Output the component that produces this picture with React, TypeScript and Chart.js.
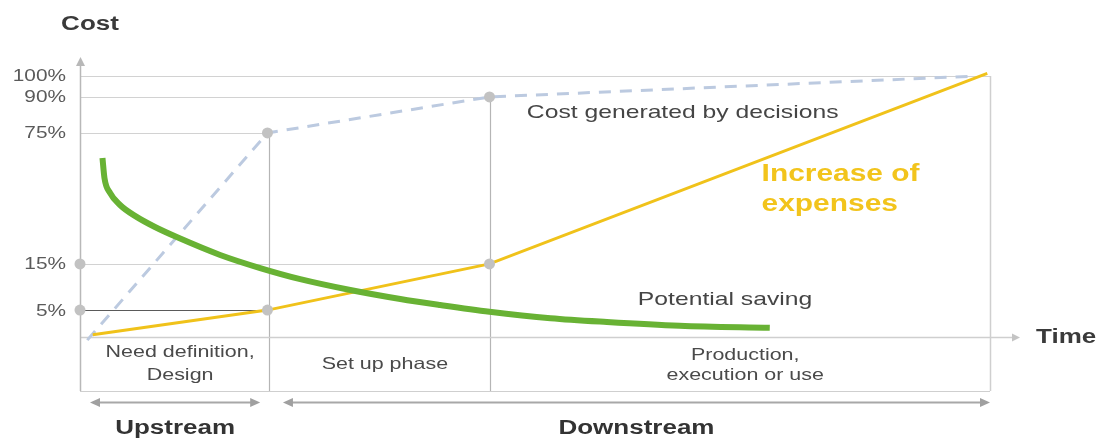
import React, { useEffect, useRef } from "react";
import { Chart, registerables, LinearScale } from "chart.js";

// ---- schematic (non-linear) cost axis: real % values and the heights they are drawn at
const yBreaks = [0, 5, 15, 75, 90, 100];
const yBreakLevels = [0, 10.3, 28.0, 78.2, 92.0, 100];
const yTickValues = [5, 15, 75, 90, 100];
const yTickLabels = ["5%", "15%", "75%", "90%", "100%"];

// ---- time axis phases (0..100 = whole life cycle)
const phaseBounds = [0, 20.8, 45, 100];
const phaseLabels = [["Need definition,", "Design"], ["Set up phase"], ["Production,", "execution or use"]];
const spanLabels = ["Upstream", "Downstream"];

// ---- series
const decisionsX = [0.8, 20.6, 45, 98.5];
const decisionsY = [-1.2, 75, 90, 100];

const expensesX = [1.4, 20.6, 45, 99.7];
const expensesY = [0.4, 5, 15, 101];

const savingX = [2.47, 2.69, 3.3, 4.4, 6.04, 8.24, 10.63, 15.4, 19.8, 24.2, 29.7, 35.2, 39.6, 45.0, 51.7, 57.9, 65.9, 75.8];
const savingY = [63.5, 54.3, 47.5, 42.0, 37.0, 31.9, 27.3, 19.1, 14.1, 11.7, 9.35, 7.4, 6.1, 4.7, 3.5, 2.8, 2.1, 1.7];

const markerX = [0, 0, 20.6, 45, 20.6, 45];
const markerY = [15, 5, 75, 90, 5, 15];

// guide lines: level and where they stop on the time axis
const guideLevels = [100, 90, 75, 15, 5];
const guideEnds = [100, 45, 20.6, 45, 20.6];

const seriesNotes = ["Cost generated by decisions", "Increase of", "expenses", "Potential saving"];

function toLevel(v: number): number {
  const n = yBreaks.length;
  if (v <= yBreaks[0]) return v - yBreaks[0] + yBreakLevels[0];
  for (let i = 1; i < n; i++) {
    if (v <= yBreaks[i]) {
      const t = (v - yBreaks[i - 1]) / (yBreaks[i] - yBreaks[i - 1]);
      return yBreakLevels[i - 1] + t * (yBreakLevels[i] - yBreakLevels[i - 1]);
    }
  }
  return v - yBreaks[n - 1] + yBreakLevels[n - 1];
}
function fromLevel(l: number): number {
  const n = yBreaks.length;
  if (l <= yBreakLevels[0]) return l - yBreakLevels[0] + yBreaks[0];
  for (let i = 1; i < n; i++) {
    if (l <= yBreakLevels[i]) {
      const t = (l - yBreakLevels[i - 1]) / (yBreakLevels[i] - yBreakLevels[i - 1]);
      return yBreaks[i - 1] + t * (yBreaks[i] - yBreaks[i - 1]);
    }
  }
  return l - yBreakLevels[n - 1] + yBreaks[n - 1];
}

class SchematicScale extends LinearScale {
  static id = "schematic";
  getPixelForValue(value: number, index?: number) {
    return super.getPixelForValue(toLevel(value), index);
  }
  getValueForPixel(pixel: number) {
    return fromLevel(super.getValueForPixel(pixel) as number);
  }
}

Chart.register(...registerables, SchematicScale);

const FONT = "'Liberation Sans', Arial, sans-serif";
const STRETCH = 1.3;

function txt(ctx: CanvasRenderingContext2D, s: string, x: number, y: number, font: string, color: string, align: CanvasTextAlign) {
  ctx.save();
  ctx.font = font;
  ctx.fillStyle = color;
  ctx.textBaseline = "middle";
  ctx.textAlign = align;
  ctx.translate(x, y);
  ctx.scale(STRETCH, 1);
  ctx.fillText(s, 0, 0);
  ctx.restore();
}

function line(ctx: CanvasRenderingContext2D, x1: number, y1: number, x2: number, y2: number, color: string, w: number) {
  ctx.save();
  ctx.strokeStyle = color;
  ctx.lineWidth = w;
  ctx.beginPath();
  ctx.moveTo(x1, y1);
  ctx.lineTo(x2, y2);
  ctx.stroke();
  ctx.restore();
}

function tri(ctx: CanvasRenderingContext2D, pts: number[][], color: string) {
  ctx.save();
  ctx.fillStyle = color;
  ctx.beginPath();
  ctx.moveTo(pts[0][0], pts[0][1]);
  ctx.lineTo(pts[1][0], pts[1][1]);
  ctx.lineTo(pts[2][0], pts[2][1]);
  ctx.closePath();
  ctx.fill();
  ctx.restore();
}

const guidePlugin = {
  id: "guides",
  beforeDatasetsDraw(chart: any) {
    const ctx: CanvasRenderingContext2D = chart.ctx;
    const xs = chart.scales.x, ys = chart.scales.y;
    const px = (v: number) => xs.getPixelForValue(v);
    const py = (v: number) => ys.getPixelForValue(v);
    const bottom = chart.chartArea.bottom;
    const x0 = px(0);

    // horizontal guides
    guideLevels.forEach((lv, i) => {
      const y = Math.round(py(lv)) + 0.5;
      const dark = lv === 5;
      line(ctx, x0, y, px(guideEnds[i]), y, dark ? "#5a5a5a" : "#d2d2d2", 1.2);
    });
    // box bottom and right side
    line(ctx, x0, bottom + 0.5, px(100), bottom + 0.5, "#cfcfcf", 1.2);
    line(ctx, Math.round(px(100)) + 0.5, py(100), Math.round(px(100)) + 0.5, bottom, "#cfcfcf", 1.5);
    // phase dividers
    line(ctx, Math.round(px(phaseBounds[1])) + 0.5, py(75), Math.round(px(phaseBounds[1])) + 0.5, bottom, "#b5b5b5", 1.2);
    line(ctx, Math.round(px(phaseBounds[2])) + 0.5, py(90), Math.round(px(phaseBounds[2])) + 0.5, bottom, "#b5b5b5", 1.2);
    // time axis with arrow
    const y0 = Math.round(py(0)) + 0.5;
    const tEnd = px(103.3);
    line(ctx, x0, y0, tEnd - 6, y0, "#cfcfcf", 1.5);
    tri(ctx, [[tEnd, y0], [tEnd - 8, y0 - 4], [tEnd - 8, y0 + 4]], "#c4c4c4");
    // cost axis with arrow
    const top = chart.chartArea.top;
    line(ctx, x0 + 0.5, bottom, x0 + 0.5, top + 6, "#b8b8b8", 1.5);
    tri(ctx, [[x0 + 0.5, top], [x0 - 4, top + 9], [x0 + 5, top + 9]], "#b8b8b8");
  },
  afterDraw(chart: any) {
    const ctx: CanvasRenderingContext2D = chart.ctx;
    const xs = chart.scales.x, ys = chart.scales.y;
    const px = (v: number) => xs.getPixelForValue(v);
    const py = (v: number) => ys.getPixelForValue(v);
    const x0 = px(0);
    const top = chart.chartArea.top;

    // axis titles
    txt(ctx, "Cost", x0 + 10, top - 33, `bold 20px ${FONT}`, "#3a3a3a", "center");
    txt(ctx, "Time", px(103.3) + 16, py(0), `bold 20px ${FONT}`, "#3a3a3a", "left");

    // tick labels
    yTickValues.forEach((v, i) => {
      txt(ctx, yTickLabels[i], x0 - 14, py(v) + 1, `16px ${FONT}`, "#5a5a5a", "right");
    });

    // series notes
    txt(ctx, seriesNotes[0], px(49.1), py(83.4), `19px ${FONT}`, "#454545", "left");
    txt(ctx, seriesNotes[1], px(74.9), py(55.8), `bold 23px ${FONT}`, "#f2c41c", "left");
    txt(ctx, seriesNotes[2], px(74.9), py(42.0), `bold 23px ${FONT}`, "#f2c41c", "left");
    txt(ctx, seriesNotes[3], px(61.3), py(7.2), `19px ${FONT}`, "#454545", "left");

    // phase labels
    const phaseCenters = [11.0, 33.5, 73.1];
    const f = `16.5px ${FONT}`;
    txt(ctx, phaseLabels[0][0], px(phaseCenters[0]), py(-6.1), f, "#4a4a4a", "center");
    txt(ctx, phaseLabels[0][1], px(phaseCenters[0]), py(-14.6), f, "#4a4a4a", "center");
    txt(ctx, phaseLabels[1][0], px(phaseCenters[1]), py(-10.7), f, "#4a4a4a", "center");
    txt(ctx, phaseLabels[2][0], px(phaseCenters[2]), py(-6.9), f, "#4a4a4a", "center");
    txt(ctx, phaseLabels[2][1], px(phaseCenters[2]), py(-14.9), f, "#4a4a4a", "center");

    // upstream / downstream arrows
    const ay = Math.round(py(-24.9)) + 0.5;
    const spans = [[1.1, 19.8], [22.3, 100]];
    spans.forEach(([a, b], i) => {
      const xa = px(a), xb = px(b);
      line(ctx, xa + 6, ay, xb - 6, ay, "#a8a8a8", 2);
      tri(ctx, [[xa, ay], [xa + 10, ay - 4.5], [xa + 10, ay + 4.5]], "#a0a0a0");
      tri(ctx, [[xb, ay], [xb - 10, ay - 4.5], [xb - 10, ay + 4.5]], "#a0a0a0");
      txt(ctx, spanLabels[i], (xa + xb) / 2, py(-34.9), `bold 20px ${FONT}`, "#333333", "center");
    });
  },
};

const pts = (xs: number[], ys: number[]) => xs.map((x, i) => ({ x, y: ys[i] }));

export default function App() {
  const ref = useRef<HTMLCanvasElement>(null);
  useEffect(() => {
    const chart = new Chart(ref.current as HTMLCanvasElement, {
      type: "scatter",
      data: {
        datasets: [
          {
            label: "markers",
            data: pts(markerX, markerY),
            pointRadius: 5.5,
            pointBackgroundColor: "#c2c2c2",
            pointBorderWidth: 0,
            showLine: false,
            order: 0,
            clip: false,
          },
          {
            label: "Potential saving",
            data: pts(savingX, savingY),
            showLine: true,
            borderColor: "#68b234",
            borderWidth: 6,
            borderCapStyle: "butt",
            cubicInterpolationMode: "monotone",
            pointRadius: 0,
            order: 1,
            clip: false,
          },
          {
            label: "Increase of expenses",
            data: pts(expensesX, expensesY),
            showLine: true,
            borderColor: "#f0c21a",
            borderWidth: 3,
            pointRadius: 0,
            tension: 0,
            order: 2,
            clip: false,
          },
          {
            label: "Cost generated by decisions",
            data: pts(decisionsX, decisionsY),
            showLine: true,
            borderColor: "#bccae0",
            borderWidth: 3,
            borderDash: [12, 9],
            pointRadius: 0,
            tension: 0,
            order: 3,
            clip: false,
          },
        ],
      } as any,
      options: {
        animation: false,
        responsive: false,
        layout: { padding: { left: 80, right: 112, top: 57, bottom: 47 } },
        plugins: { legend: { display: false }, tooltip: { enabled: false } },
        events: [],
        scales: {
          x: { type: "linear", display: false, min: 0, max: 100, bounds: "data" } as any,
          y: { type: "schematic", display: false, min: -20.7, max: 107.3, bounds: "data" } as any,
        },
      },
      plugins: [guidePlugin],
    });
    return () => chart.destroy();
  }, []);
  return (
    <div style={{ position: "fixed", left: 0, top: 0, width: 1102, height: 438, background: "#fff" }}>
      <canvas ref={ref} width={1102} height={438} style={{ display: "block" }} />
    </div>
  );
}
